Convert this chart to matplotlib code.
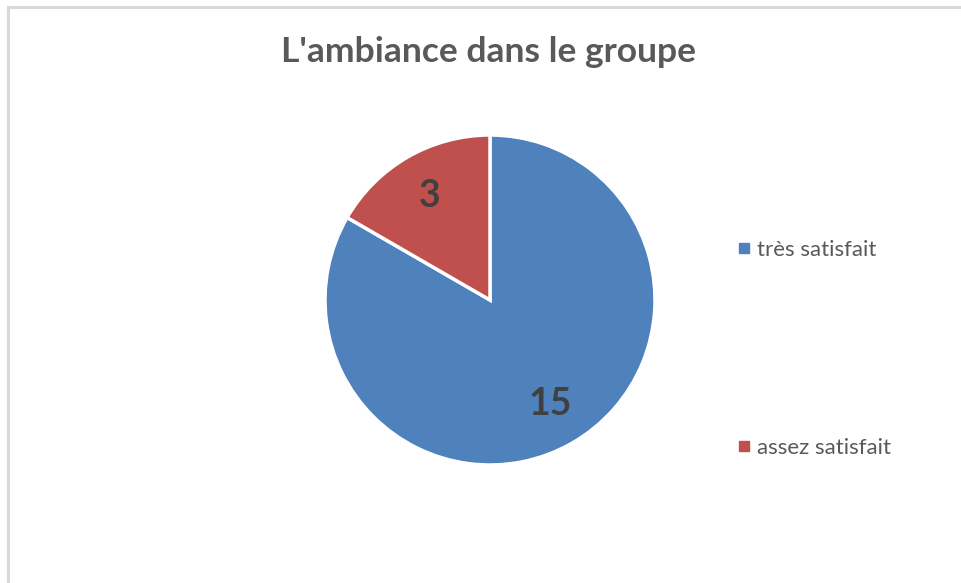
import matplotlib
matplotlib.use("Agg")
import matplotlib.pyplot as plt
from matplotlib.patches import Rectangle
from matplotlib.lines import Line2D

categories = ["très satisfait", "assez satisfait"]
values = [15, 3]
colors = ["#4F81BD", "#C0504D"]
title = "L'ambiance dans le groupe"

W, H = 962, 583
fig = plt.figure(figsize=(W / 100, H / 100), dpi=100)
fig.patch.set_facecolor("white")

# chart border (only top and left edges visible in the crop)
fig.patches.append(Rectangle((8 / W, -0.1), 1.2, (H - 7) / H + 0.1,
                             transform=fig.transFigure, fill=False,
                             edgecolor="#D9D9D9", linewidth=2.2))

R = 165
cx, cy = 490, H - 300
ax = fig.add_axes([(cx - R) / W, (cy - R) / H, 2 * R / W, 2 * R / H])
wedges, texts = ax.pie(values, colors=colors, startangle=90, counterclock=False,
                       labels=[str(v) for v in values], labeldistance=0.73,
                       wedgeprops=dict(edgecolor="white", linewidth=2.5),
                       textprops=dict(fontsize=27, fontweight="bold",
                                      color="#404040", family="Lato",
                                      ha="center", va="center"))
ax.set_xlim(-1, 1)
ax.set_ylim(-1, 1)
ax.set_aspect("equal")
ax.axis("off")

fig.text(489 / W, 1 - 52 / H, title, ha="center", va="center",
         fontsize=25.5, fontweight="bold", color="#595959", family="Lato")

handles = [Line2D([], [], marker="s", linestyle="none", markersize=6.5,
                  markerfacecolor=c, markeredgecolor=c) for c in colors]
leg = fig.legend(handles, categories, loc="upper left",
                 bbox_to_anchor=(738 / W, 1 - 240 / H), frameon=False,
                 prop=dict(family="Lato", size=16), labelcolor="#595959",
                 handlelength=0.5, handletextpad=0.34, labelspacing=8.0,
                 borderpad=0, borderaxespad=0)

fig.savefig("out.png", dpi=100, facecolor="white")
